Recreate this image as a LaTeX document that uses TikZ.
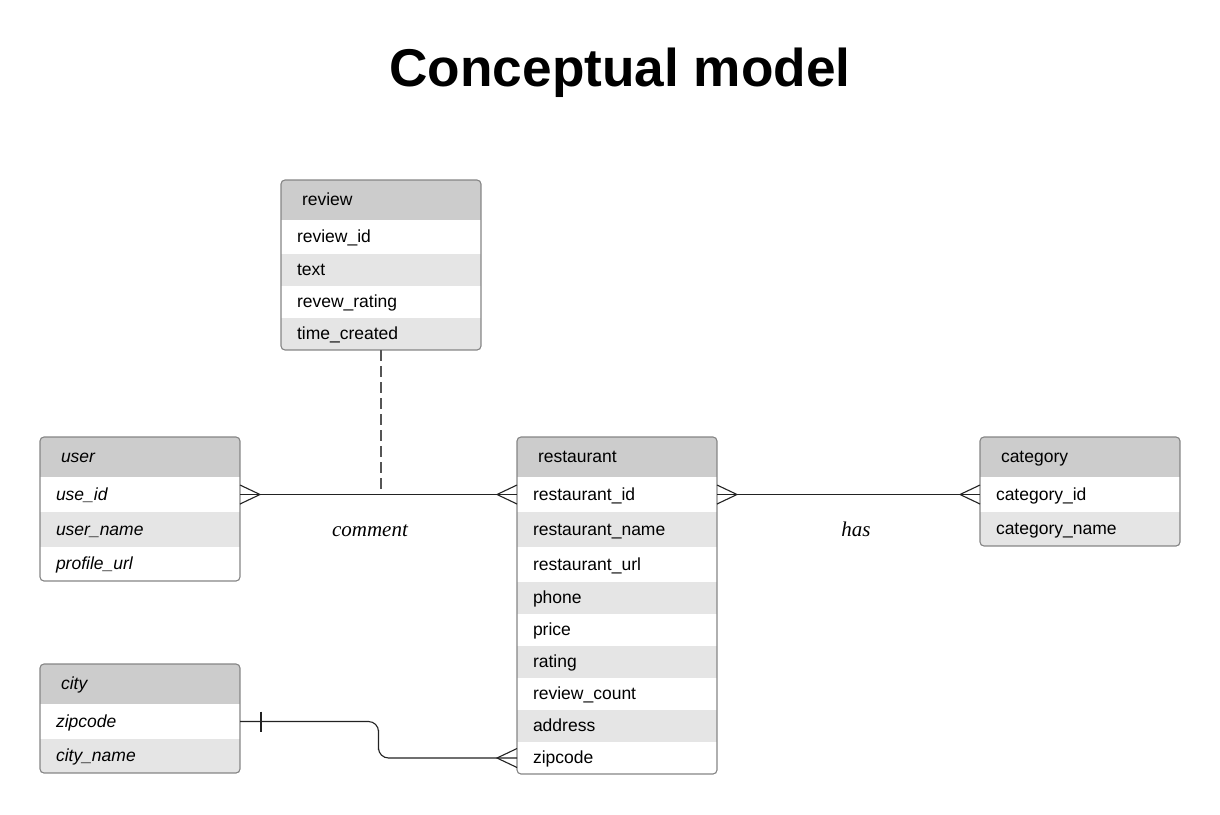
\documentclass[tikz,border=0pt]{standalone}
\usepackage{fontspec}
\setmainfont{Liberation Sans}
\newfontfamily\lblfont{Liberation Serif}
\usetikzlibrary{fit,calc}
\definecolor{hdrgray}{HTML}{CCCCCC}
\definecolor{rowgray}{HTML}{E5E5E5}
\definecolor{bordergray}{HTML}{858585}
\definecolor{linecol}{HTML}{222222}
\definecolor{dashcol}{HTML}{555555}
\tikzset{
  every node/.style={font=\fontsize{17.5}{20}\selectfont},
  hdr/.style={anchor=north west, minimum width=200, minimum height=40, inner xsep=21, inner ysep=0, outer sep=0, text width=158, text height=12.6, text depth=1.5, align=left, fill=hdrgray},
  roww/.style={anchor=north west, minimum width=200, inner xsep=16, inner ysep=0, outer sep=0, text width=168, text height=12.6, text depth=1.5, align=left, fill=white},
  rowg/.style={roww, fill=rowgray},
  frame/.style={draw=bordergray, line width=1.1, rounded corners=4, inner sep=0, outer sep=0},
  conn/.style={draw=linecol, line width=1.1},
  lbl/.style={font=\lblfont\itshape\fontsize{21}{24}\selectfont},
}
\begin{document}
\begin{tikzpicture}[x=1pt,y=-1pt]
\useasboundingbox (0,0) rectangle (1220,814);
\node[font=\bfseries\fontsize{53.2}{60}\selectfont] (title) at (620,73) {Conceptual model};

% review
\begin{scope}
\clip[rounded corners=4] (281,180) rectangle (481,350);
\node[hdr] (rev-h) at (281,180) {review};
\node[roww, minimum height=34] (rev-1) at (rev-h.south west) {review\_id};
\node[rowg, minimum height=32] (rev-2) at (rev-1.south west) {text};
\node[roww, minimum height=32] (rev-3) at (rev-2.south west) {revew\_rating};
\node[rowg, minimum height=32] (rev-4) at (rev-3.south west) {time\_created};
\end{scope}
\node[frame, fit=(rev-h)(rev-4)] (review) {};

% user
\begin{scope}
\clip[rounded corners=4] (40,437) rectangle (240,582);
\node[hdr] (user-h) at (40,437) {\itshape user};
\node[roww, minimum height=35] (user-1) at (user-h.south west) {\itshape use\_id};
\node[rowg, minimum height=35] (user-2) at (user-1.south west) {\itshape user\_name};
\node[roww, minimum height=34] (user-3) at (user-2.south west) {\itshape profile\_url};
\end{scope}
\node[frame, fit=(user-h)(user-3)] (user) {};

% city
\begin{scope}
\clip[rounded corners=4] (40,664) rectangle (240,774);
\node[hdr] (city-h) at (40,664) {\itshape city};
\node[roww, minimum height=35] (city-1) at (city-h.south west) {\itshape zipcode};
\node[rowg, minimum height=34] (city-2) at (city-1.south west) {\itshape city\_name};
\end{scope}
\node[frame, fit=(city-h)(city-2)] (city) {};

% restaurant
\begin{scope}
\clip[rounded corners=4] (517,437) rectangle (717,774);
\node[hdr] (rest-h) at (517,437) {restaurant};
\node[roww, minimum height=35] (rest-1) at (rest-h.south west) {restaurant\_id};
\node[rowg, minimum height=35] (rest-2) at (rest-1.south west) {restaurant\_name};
\node[roww, minimum height=35] (rest-3) at (rest-2.south west) {restaurant\_url};
\node[rowg, minimum height=32] (rest-4) at (rest-3.south west) {phone};
\node[roww, minimum height=32] (rest-5) at (rest-4.south west) {price};
\node[rowg, minimum height=32] (rest-6) at (rest-5.south west) {rating};
\node[roww, minimum height=32] (rest-7) at (rest-6.south west) {review\_count};
\node[rowg, minimum height=32] (rest-8) at (rest-7.south west) {address};
\node[roww, minimum height=32] (rest-9) at (rest-8.south west) {zipcode};
\end{scope}
\node[frame, fit=(rest-h)(rest-9)] (restaurant) {};

% category
\begin{scope}
\clip[rounded corners=4] (980,437) rectangle (1180,547);
\node[hdr] (cat-h) at (980,437) {category};
\node[roww, minimum height=35] (cat-1) at (cat-h.south west) {category\_id};
\node[rowg, minimum height=34] (cat-2) at (cat-1.south west) {category\_name};
\end{scope}
\node[frame, fit=(cat-h)(cat-2)] (category) {};

% comment relationship
\draw[dashcol, line width=1.2, dash pattern=on 11pt off 5pt] (review.south) -- (review.south |- user-1.east);
\draw[conn] (user-1.east) -- (rest-1.west);
\draw[conn] ([yshift=9.5]user-1.east) -- ([xshift=20]user-1.east) -- ([yshift=-9.5]user-1.east);
\draw[conn] ([yshift=9.5]rest-1.west) -- ([xshift=-20]rest-1.west) -- ([yshift=-9.5]rest-1.west);
\node[lbl] (comment) at (370,531) {comment};

% has relationship
\draw[conn] (rest-1.east) -- (cat-1.west);
\draw[conn] ([yshift=9.5]rest-1.east) -- ([xshift=20]rest-1.east) -- ([yshift=-9.5]rest-1.east);
\draw[conn] ([yshift=9.5]cat-1.west) -- ([xshift=-20]cat-1.west) -- ([yshift=-9.5]cat-1.west);
\node[lbl] (has) at (856,529) {has};

% city - restaurant
\coordinate (cmid) at ($(city-1.east)!.5!(rest-9.west)$);
\draw[conn, rounded corners=10] (city-1.east) -| (cmid) |- (rest-9.west);
\draw[conn] ([xshift=21,yshift=10]city-1.east) -- ([xshift=21,yshift=-10]city-1.east);
\draw[conn] ([yshift=9.5]rest-9.west) -- ([xshift=-20]rest-9.west) -- ([yshift=-9.5]rest-9.west);
\end{tikzpicture}
\end{document}
